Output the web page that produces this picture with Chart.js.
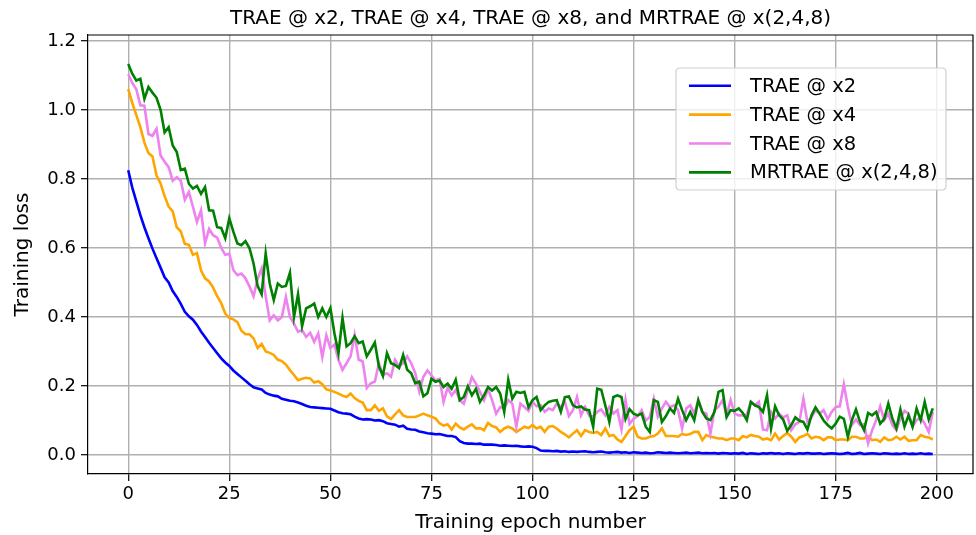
<!DOCTYPE html>
<html>
<head>
<meta charset="utf-8">
<script src="https://cdn.jsdelivr.net/npm/chart.js@4.4.1/dist/chart.umd.min.js"></script>
<style>
html,body{margin:0;padding:0;background:#fff;}
#wrap{width:976px;height:535px;position:relative;}
</style>
</head>
<body>
<div id="wrap"><canvas id="c" width="976" height="535"></canvas></div>
<script>
const chartTitle = 'TRAE @ x2, TRAE @ x4, TRAE @ x8, and MRTRAE @ x(2,4,8)';
const xLabel = 'Training epoch number';
const yLabel = 'Training loss';
const seriesNames = ['TRAE @ x2', 'TRAE @ x4', 'TRAE @ x8', 'MRTRAE @ x(2,4,8)'];
const xTicks = [0, 25, 50, 75, 100, 125, 150, 175, 200];
const yTicks = [0.0, 0.2, 0.4, 0.6, 0.8, 1.0, 1.2];
const epochs = Array.from({length: 200}, (_, i) => i);

const traeX2 = [
0.825,0.775,0.735,0.695,0.66,0.628,0.598,0.57,0.543,0.515,
0.5,0.475,0.458,0.438,0.415,0.402,0.392,0.377,0.358,0.342,
0.325,0.31,0.295,0.28,0.268,0.258,0.245,0.235,0.225,0.215,
0.205,0.196,0.193,0.19,0.18,0.175,0.172,0.17,0.163,0.16,
0.157,0.156,0.152,0.148,0.143,0.139,0.138,0.137,0.136,0.135,
0.134,0.129,0.124,0.121,0.12,0.118,0.111,0.106,0.103,0.104,
0.103,0.1,0.101,0.098,0.092,0.09,0.088,0.082,0.085,0.076,
0.074,0.073,0.068,0.066,0.063,0.062,0.06,0.061,0.058,0.055,
0.055,0.052,0.04,0.035,0.033,0.033,0.032,0.033,0.03,0.03,
0.03,0.029,0.027,0.028,0.027,0.026,0.027,0.025,0.024,0.025,
0.024,0.02,0.013,0.012,0.012,0.011,0.012,0.01,0.011,0.009,
0.01,0.009,0.01,0.011,0.009,0.008,0.009,0.01,0.008,0.007,
0.008,0.009,0.007,0.008,0.006,0.008,0.007,0.006,0.007,0.005,
0.006,0.008,0.007,0.006,0.007,0.006,0.005,0.006,0.007,0.005,
0.006,0.007,0.005,0.006,0.005,0.006,0.004,0.006,0.005,0.004,
0.005,0.004,0.006,0.003,0.005,0.004,0.003,0.005,0.004,0.006,
0.004,0.005,0.003,0.005,0.004,0.003,0.005,0.004,0.006,0.004,
0.004,0.005,0.003,0.004,0.005,0.004,0.003,0.004,0.006,0.003,
0.004,0.006,0.003,0.004,0.005,0.004,0.003,0.005,0.004,0.003,
0.004,0.003,0.005,0.003,0.004,0.003,0.005,0.003,0.004,0.003
];

const traeX4 = [
1.06,1.02,0.985,0.95,0.905,0.875,0.865,0.81,0.787,0.75,
0.72,0.706,0.66,0.648,0.612,0.609,0.58,0.585,0.535,0.512,
0.503,0.485,0.46,0.44,0.41,0.397,0.393,0.385,0.36,0.35,
0.35,0.338,0.31,0.322,0.3,0.296,0.29,0.276,0.272,0.262,
0.246,0.232,0.217,0.221,0.224,0.222,0.21,0.214,0.205,0.19,
0.187,0.183,0.178,0.172,0.168,0.178,0.165,0.157,0.152,0.13,
0.13,0.144,0.128,0.135,0.112,0.104,0.118,0.13,0.115,0.11,
0.11,0.11,0.115,0.12,0.115,0.111,0.106,0.092,0.085,0.089,
0.074,0.091,0.08,0.074,0.082,0.089,0.077,0.078,0.072,0.093,
0.084,0.08,0.067,0.077,0.082,0.077,0.067,0.074,0.082,0.078,
0.087,0.077,0.082,0.067,0.082,0.084,0.077,0.067,0.06,0.051,
0.062,0.072,0.055,0.072,0.067,0.064,0.067,0.058,0.077,0.055,
0.058,0.045,0.038,0.055,0.072,0.082,0.053,0.048,0.048,0.053,
0.055,0.062,0.077,0.055,0.055,0.055,0.053,0.061,0.058,0.061,
0.067,0.067,0.043,0.058,0.053,0.051,0.048,0.048,0.043,0.048,
0.048,0.043,0.055,0.051,0.058,0.055,0.053,0.045,0.048,0.043,
0.062,0.045,0.055,0.064,0.053,0.038,0.051,0.055,0.061,0.048,
0.053,0.051,0.043,0.051,0.051,0.043,0.045,0.045,0.043,0.053,
0.053,0.048,0.048,0.055,0.043,0.045,0.038,0.051,0.043,0.045,
0.053,0.045,0.053,0.041,0.043,0.043,0.058,0.053,0.051,0.045
];

const traeX8 = [
1.104,1.078,1.06,1.013,1.012,0.93,0.925,0.945,0.868,0.85,
0.834,0.795,0.805,0.795,0.74,0.762,0.72,0.675,0.709,0.613,
0.655,0.637,0.63,0.6,0.58,0.583,0.536,0.521,0.526,0.512,
0.488,0.46,0.51,0.541,0.46,0.39,0.405,0.39,0.4,0.458,
0.4,0.381,0.357,0.362,0.342,0.354,0.328,0.352,0.284,0.347,
0.31,0.32,0.276,0.247,0.266,0.286,0.348,0.276,0.271,0.194,
0.208,0.213,0.266,0.232,0.237,0.227,0.276,0.257,0.266,0.286,
0.266,0.237,0.184,0.227,0.245,0.231,0.216,0.221,0.154,0.195,
0.173,0.188,0.159,0.149,0.188,0.226,0.207,0.183,0.159,0.192,
0.159,0.12,0.139,0.135,0.159,0.149,0.082,0.149,0.139,0.128,
0.154,0.141,0.145,0.125,0.135,0.13,0.149,0.139,0.154,0.113,
0.13,0.168,0.115,0.139,0.115,0.111,0.125,0.132,0.115,0.139,
0.12,0.13,0.075,0.16,0.09,0.105,0.113,0.13,0.1,0.11,
0.163,0.111,0.135,0.154,0.139,0.144,0.13,0.077,0.135,0.144,
0.12,0.159,0.125,0.12,0.062,0.13,0.14,0.159,0.115,0.159,
0.12,0.115,0.115,0.117,0.154,0.144,0.154,0.074,0.072,0.125,
0.106,0.12,0.109,0.115,0.072,0.089,0.096,0.163,0.096,0.109,
0.13,0.12,0.13,0.104,0.125,0.139,0.141,0.205,0.139,0.087,
0.103,0.087,0.089,0.034,0.072,0.101,0.141,0.101,0.12,0.087,
0.072,0.106,0.128,0.12,0.082,0.101,0.109,0.091,0.067,0.125
];

const mrtrae = [
1.133,1.105,1.085,1.09,1.032,1.066,1.05,1.035,1.0,0.935,
0.95,0.897,0.878,0.826,0.83,0.786,0.772,0.78,0.757,0.776,
0.709,0.708,0.66,0.658,0.628,0.686,0.647,0.613,0.608,0.62,
0.599,0.555,0.49,0.466,0.584,0.497,0.449,0.497,0.487,0.49,
0.528,0.4,0.466,0.373,0.425,0.431,0.439,0.4,0.425,0.4,
0.426,0.353,0.295,0.397,0.315,0.324,0.344,0.324,0.329,0.286,
0.305,0.326,0.257,0.229,0.295,0.266,0.261,0.252,0.29,0.247,
0.237,0.208,0.213,0.17,0.179,0.221,0.212,0.216,0.197,0.207,
0.192,0.218,0.159,0.168,0.199,0.173,0.192,0.154,0.173,0.197,
0.187,0.197,0.178,0.125,0.218,0.163,0.183,0.18,0.183,0.139,
0.159,0.168,0.13,0.144,0.154,0.157,0.159,0.125,0.168,0.17,
0.144,0.138,0.141,0.132,0.13,0.082,0.192,0.189,0.144,0.096,
0.168,0.173,0.168,0.104,0.133,0.12,0.115,0.12,0.082,0.067,
0.159,0.154,0.096,0.113,0.135,0.122,0.163,0.13,0.101,0.125,
0.101,0.159,0.125,0.106,0.101,0.125,0.183,0.188,0.11,0.13,
0.128,0.135,0.122,0.101,0.154,0.144,0.139,0.125,0.173,0.077,
0.141,0.115,0.103,0.07,0.087,0.109,0.099,0.096,0.074,0.115,
0.138,0.12,0.1,0.087,0.077,0.091,0.111,0.105,0.053,0.101,
0.132,0.096,0.072,0.122,0.115,0.125,0.091,0.105,0.149,0.106,
0.077,0.132,0.082,0.115,0.082,0.135,0.101,0.154,0.103,0.135
];

const seriesValues = [traeX2, traeX4, traeX8, mrtrae];
const seriesColors = ['#0000ff', '#ffa500', '#ee82ee', '#008000'];
const FONT = '"DejaVu Sans", "Liberation Sans", sans-serif';

Chart.defaults.font.family = FONT;
Chart.defaults.color = '#000';

const datasets = seriesValues.map((vals, k) => ({
  label: seriesNames[k],
  data: epochs.map((e, i) => ({x: e, y: vals[i]})),
  borderColor: seriesColors[k],
  backgroundColor: seriesColors[k],
  borderWidth: 2.6,
  pointRadius: 0,
  tension: 0,
  fill: false,
  order: 3 - k
}));

const spinesPlugin = {
  id: 'spines',
  afterDatasetsDraw(chart) {
    const ctx = chart.ctx, ca = chart.chartArea;
    ctx.save();
    ctx.strokeStyle = '#000';
    ctx.lineWidth = 1.2;
    ctx.beginPath();
    ctx.moveTo(ca.left, ca.top);
    ctx.lineTo(ca.right, ca.top);
    ctx.lineTo(ca.right, ca.bottom);
    ctx.stroke();
    ctx.restore();
  }
};

const textPlugin = {
  id: 'textPlugin',
  afterDraw(chart) {
    const ctx = chart.ctx;
    const ca = chart.chartArea;
    const cx = (ca.left + ca.right) / 2;
    ctx.save();
    ctx.fillStyle = '#000';
    ctx.font = '20px ' + FONT;
    ctx.textAlign = 'center';
    ctx.textBaseline = 'middle';
    ctx.fillText(chartTitle, cx, 19);
    ctx.font = '20px ' + FONT;
    ctx.fillText(xLabel, cx, 523);
    ctx.save();
    ctx.translate(23, (ca.top + ca.bottom) / 2);
    ctx.rotate(-Math.PI / 2);
    ctx.fillText(yLabel, 0, 0);
    ctx.restore();
    // legend
    const lx = 676, ly = 68, lw = 270, lh = 122, r = 4;
    ctx.beginPath();
    ctx.moveTo(lx + r, ly);
    ctx.lineTo(lx + lw - r, ly);
    ctx.quadraticCurveTo(lx + lw, ly, lx + lw, ly + r);
    ctx.lineTo(lx + lw, ly + lh - r);
    ctx.quadraticCurveTo(lx + lw, ly + lh, lx + lw - r, ly + lh);
    ctx.lineTo(lx + r, ly + lh);
    ctx.quadraticCurveTo(lx, ly + lh, lx, ly + lh - r);
    ctx.lineTo(lx, ly + r);
    ctx.quadraticCurveTo(lx, ly, lx + r, ly);
    ctx.closePath();
    ctx.fillStyle = 'rgba(255,255,255,0.8)';
    ctx.fill();
    ctx.strokeStyle = '#d0d0d0';
    ctx.lineWidth = 1.2;
    ctx.stroke();
    ctx.font = '19.5px ' + FONT;
    ctx.textAlign = 'left';
    ctx.textBaseline = 'middle';
    chart.data.datasets.forEach((ds, k) => {
      const yy = 85.7 + k * 28.9;
      ctx.strokeStyle = ds.borderColor;
      ctx.lineWidth = 2.6;
      ctx.beginPath();
      ctx.moveTo(689, yy);
      ctx.lineTo(731, yy);
      ctx.stroke();
      ctx.fillStyle = '#000';
      ctx.fillText(ds.label, 750, yy + 1);
    });
    ctx.restore();
  }
};

new Chart(document.getElementById('c'), {
  type: 'line',
  data: {datasets},
  plugins: [spinesPlugin, textPlugin],
  options: {
    responsive: false,
    animation: false,
    events: [],
    layout: {padding: {left: 0, right: 3, top: 35, bottom: 0}},
    plugins: {legend: {display: false}, tooltip: {enabled: false}, title: {display: false}},
    scales: {
      x: {
        type: 'linear',
        min: -9.95,
        max: 208.95,
        afterFit(s) { s.height = 61; },
        afterBuildTicks(s) { s.ticks = xTicks.map(v => ({value: v})); },
        ticks: {font: {size: 18}, color: '#000', padding: 3, maxRotation: 0, autoSkip: false,
          callback: v => String(v)},
        grid: {color: '#b0b0b0', lineWidth: 1.4, tickLength: 7, tickColor: '#000', tickWidth: 1.2},
        border: {display: true, color: '#000', width: 1.2}
      },
      y: {
        type: 'linear',
        min: -0.055,
        max: 1.217,
        afterFit(s) { s.width = 88; },
        afterBuildTicks(s) { s.ticks = yTicks.map(v => ({value: v})); },
        ticks: {font: {size: 18}, color: '#000', padding: 5, autoSkip: false,
          callback: v => v.toFixed(1)},
        grid: {color: '#b0b0b0', lineWidth: 1.4, tickLength: 7, tickColor: '#000', tickWidth: 1.2},
        border: {display: true, color: '#000', width: 1.2}
      }
    }
  }
});
</script>
</body>
</html>
